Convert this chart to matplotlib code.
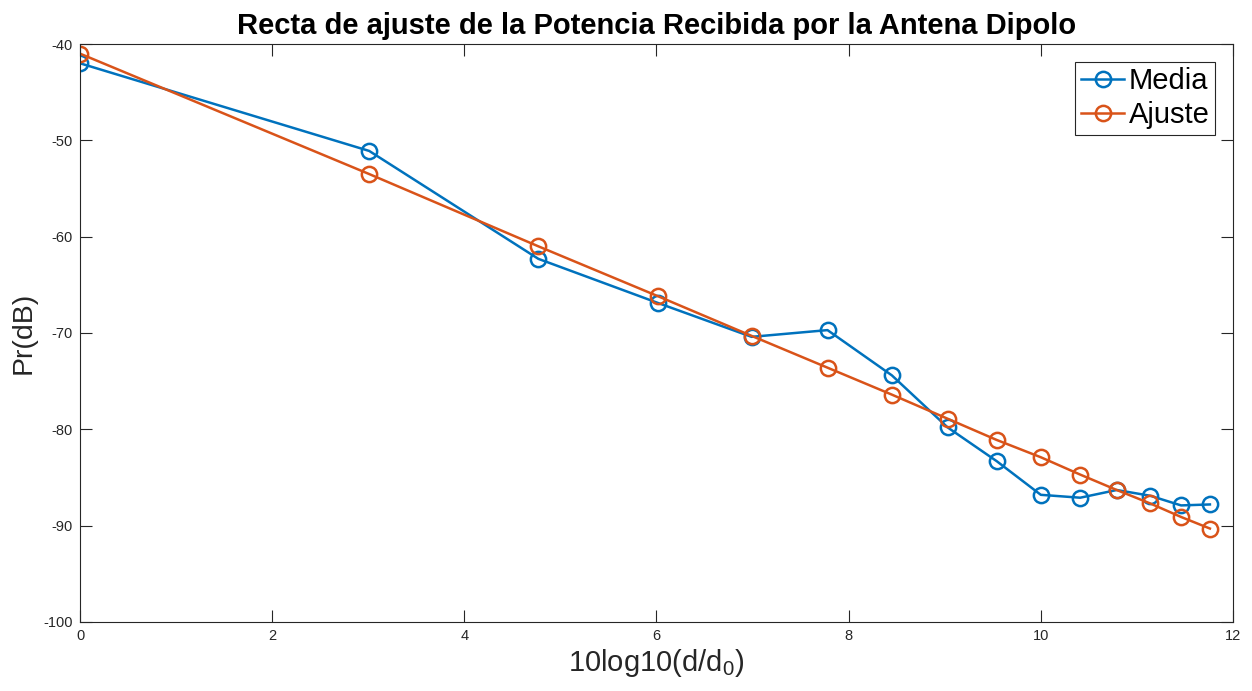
import matplotlib
matplotlib.use('Agg')
import matplotlib.pyplot as plt

# 10log10(d/d0) values
x_db = [0, 3.01, 4.77, 6.02, 6.99, 7.78, 8.45, 9.03, 9.54, 10.0, 10.41, 10.79, 11.14, 11.46, 11.76]
media = [-42.0, -51.1, -62.3, -66.9, -70.4, -69.7, -74.4, -79.8, -83.3, -86.8, -87.1, -86.3, -86.9, -87.9, -87.8]
ajuste = [-41.0, -53.5, -61.0, -66.2, -70.3, -73.6, -76.4, -78.9, -81.1, -82.9, -84.7, -86.3, -87.7, -89.1, -90.3]

xticks = [0, 2, 4, 6, 8, 10, 12]
yticks = [-100, -90, -80, -70, -60, -50, -40]

plt.rcParams['font.family'] = ['Liberation Sans', 'DejaVu Sans']
plt.rcParams['axes.unicode_minus'] = False
plt.rcParams['mathtext.fontset'] = 'custom'
plt.rcParams['mathtext.rm'] = 'Liberation Sans'
plt.rcParams['mathtext.it'] = 'Liberation Sans'

fig = plt.figure(figsize=(12.52, 6.91), dpi=100)
ax = fig.add_axes([0.0639, 0.0999, 0.9209, 0.8364])

ax.plot(x_db, media, '-o', color='#0072BD', lw=1.8, ms=11, mfc='none', mew=1.8, label='Media')
ax.plot(x_db, ajuste, '-o', color='#D95319', lw=1.8, ms=11, mfc='none', mew=1.8, label='Ajuste')

ax.set_xlim(0, 12)
ax.set_ylim(-100, -40)
ax.set_xticks(xticks)
ax.set_yticks(yticks)
ax.tick_params(direction='in', length=8.5, width=0.8, top=True, right=True,
               labelsize=10.5, colors='#262626', pad=5)
for s in ax.spines.values():
    s.set_color('#262626')
    s.set_linewidth(0.8)

ax.set_title('Recta de ajuste de la Potencia Recibida por la Antena Dipolo',
             fontsize=21, fontweight='bold', pad=7)
ax.set_xlabel(r'10log10(d/d$_0$)', fontsize=21, color='#262626', labelpad=3)
ax.set_ylabel('Pr(dB)', fontsize=20.5, color='#262626', labelpad=5)

leg = ax.legend(loc='upper right', fontsize=21, fancybox=False, framealpha=1,
                edgecolor='#262626', handlelength=1.5, borderpad=0.2,
                labelspacing=0.2, handletextpad=0.15, borderaxespad=0.6)
leg.get_frame().set_linewidth(0.8)

fig.savefig('out.png', dpi=100)
